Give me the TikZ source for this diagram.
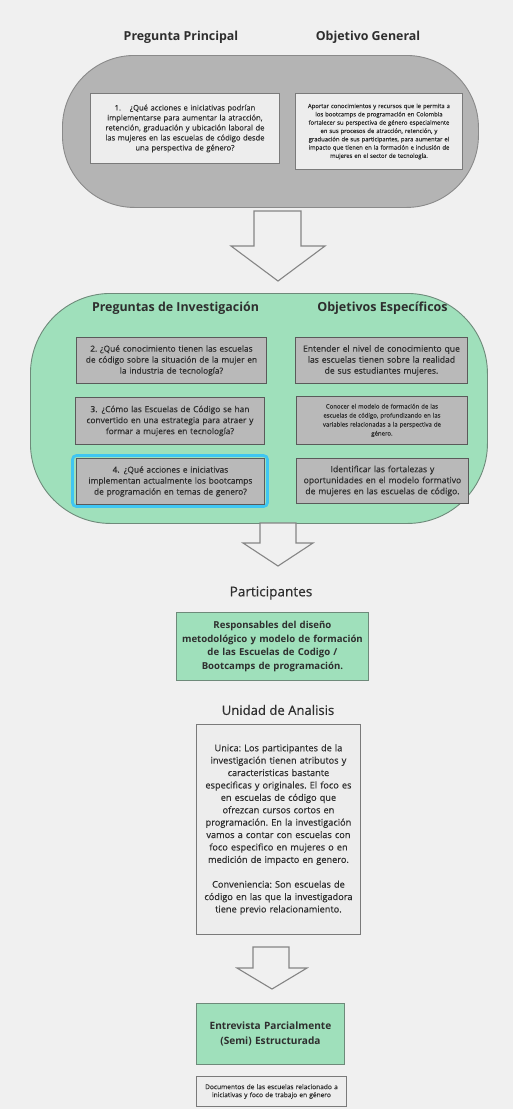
\documentclass[tikz,border=0pt]{standalone}
\usepackage{fontspec}
\setmainfont{Open Sans}
\newfontfamily\medsans{Open Sans}[FakeBold=0.4]
\definecolor{bgc}{HTML}{F0F0F0}
\definecolor{stadgray}{HTML}{B4B4B4}
\definecolor{stadgrayb}{HTML}{8A8A8A}
\definecolor{lightbox}{HTML}{EDEDED}
\definecolor{lightboxb}{HTML}{7A7A7A}
\definecolor{mint}{HTML}{9FE0BB}
\definecolor{mintb}{HTML}{6E8A7A}
\definecolor{midgray}{HTML}{B9B9B9}
\definecolor{midgrayb}{HTML}{5A5A5A}
\definecolor{cyanhl}{HTML}{3FC6F2}
\definecolor{txt}{HTML}{2E2E2E}
\definecolor{arrowb}{HTML}{858585}
\tikzset{
  hdr/.style={text=txt, font=\bfseries\fontsize{12.4}{14}\selectfont, inner sep=0pt},
  hdrb/.style={text=txt, inner sep=0pt},
  basebox/.style={anchor=north west, inner sep=0pt, align=center, text=txt},
  topbox/.style={basebox, draw=lightboxb, fill=lightbox, line width=0.9pt},
  qbox/.style={basebox, draw=midgrayb, fill=midgray, line width=0.9pt},
  greenbox/.style={basebox, draw=mintb, fill=mint, line width=0.9pt},
  hollowarrow/.style={draw=arrowb, fill=bgc, line width=1.1pt, line join=miter}
}
\begin{document}
\frenchspacing
\begin{tikzpicture}[x=1pt,y=-1pt]
\fill[bgc] (0,0) rectangle (513,1109);
\useasboundingbox (0,0) rectangle (513,1109);

% ---------- top section ----------
\node[hdr] (hpp) at (181,37) {Pregunta Principal};
\node[hdr] (hog) at (368,37) {Objetivo General};

\node[anchor=north west, draw=stadgrayb, fill=stadgray, line width=0.9pt,
      minimum width=416pt, minimum height=152pt, rounded corners=72pt, inner sep=0pt]
      (stadtop) at (62,55) {};

\node[topbox, minimum width=189pt, minimum height=70pt, text width=187pt,
      font=\medsans\fontsize{7.6}{10}\selectfont] (q1) at (90,93)
  {1.\enspace\ \ ¿Qué acciones e iniciativas podrían\\
   implementarse para aumentar la atracción,\\
   retención, graduación y ubicación laboral de\\
   las mujeres en las escuelas de código desde\\
   una perspectiva de género?};

\node[topbox, minimum width=167pt, minimum height=76pt, text width=165pt,
      font=\medsans\fontsize{5.9}{8.3}\selectfont] (og) at (295,93)
  {Aportar conocimientos y recursos que le permita a\\
   los bootcamps de programación en Colombia\\
   fortalecer su perspectiva de género especialmente\\
   en sus procesos de atracción, retención, y\\
   graduación de sus participantes, para aumentar el\\
   impacto que tienen en la formación e inclusión de\\
   mujeres en el sector de tecnología.};

% arrow 1
\draw[hollowarrow] (254,211) -- (254,246) -- (231,246) -- (278,281) -- (325,246) -- (301,246) -- (301,211) -- cycle;

% ---------- green section ----------
\node[anchor=north west, draw=mintb, fill=mint, line width=0.9pt,
      minimum width=457pt, minimum height=230pt, rounded corners=80pt, inner sep=0pt]
      (stadgreen) at (30,293) {};

\node[hdr, font=\bfseries\fontsize{12.4}{14}\selectfont] (hpi) at (175.5,308) {Preguntas de Investigación};
\node[hdr, font=\bfseries\fontsize{12.5}{14}\selectfont] (hoe) at (382.5,308) {Objetivos Específicos};

\node[qbox, minimum width=190pt, minimum height=46pt, text width=188pt,
      font=\medsans\fontsize{8.35}{11}\selectfont] (q2) at (76,337)
  {2. ¿Qué conocimiento tienen las escuelas\\
   de código sobre la situación de la mujer en\\
   la industria de tecnología?};

\node[qbox, minimum width=189pt, minimum height=47pt, text width=188pt,
      font=\medsans\fontsize{8.35}{11}\selectfont] (q3) at (75,397)
  {3.\enspace ¿Cómo las Escuelas de Código se han\\
   convertido en una estrategia para atraer y\\
   formar a mujeres en tecnología?};

\draw[cyanhl, line width=2.8pt, rounded corners=4pt] (72.5,455.5) rectangle (267.5,506.5);
\node[qbox, minimum width=188pt, minimum height=46pt, text width=186pt,
      font=\medsans\fontsize{8.35}{11}\selectfont] (q4) at (76,458)
  {4.\enspace ¿Qué acciones e iniciativas\\
   implementan actualmente los bootcamps\\
   de programación en temas de genero?};

\node[qbox, minimum width=172pt, minimum height=46pt, text width=170pt,
      font=\medsans\fontsize{8.6}{11}\selectfont] (oe1) at (295,337)
  {Entender el nivel de conocimiento que\\
   las escuelas tienen sobre la realidad\\
   de sus estudiantes mujeres.};

\node[qbox, minimum width=171pt, minimum height=48pt, text width=170pt,
      font=\medsans\fontsize{6.0}{9}\selectfont] (oe2) at (296,396)
  {Conocer el modelo de formación de las\\
   escuelas de código, profundizando en las\\
   variables relacionadas a la perspectiva de\\
   género.};

\node[qbox, minimum width=172pt, minimum height=45pt, text width=170pt,
      font=\medsans\fontsize{8.6}{11}\selectfont] (oe3) at (296,458)
  {Identificar las fortalezas y\\
   oportunidades en el modelo formativo\\
   de mujeres en las escuelas de código.};

% arrow 2
\draw[hollowarrow] (260,523) -- (260,543) -- (243,543) -- (278,566) -- (313,543) -- (296,543) -- (296,523) -- cycle;

% ---------- participantes ----------
\node[hdrb, font=\medsans\fontsize{13.6}{15}\selectfont] (hpa) at (271,593) {Participantes};
\node[greenbox, minimum width=192pt, minimum height=68pt, text width=190pt,
      font=\bfseries\fontsize{9.6}{13.5}\selectfont] (pa) at (176,612)
  {Responsables del diseño\\
   metodológico y modelo de formación\\
   de las Escuelas de Codigo /\\
   Bootcamps de programación.};

% ---------- unidad de analisis ----------
\node[hdrb, font=\medsans\fontsize{13.1}{15}\selectfont] (hua) at (278,710) {Unidad de Analisis};
\node[topbox, minimum width=164pt, minimum height=210pt, text width=162pt,
      font=\medsans\fontsize{9.2}{12.4}\selectfont] (ua) at (196,724)
  {Unica: Los participantes de la\\
   investigación tienen atributos y\\
   caracteristicas bastante\\
   especificas y originales. El foco es\\
   en escuelas de código que\\
   ofrezcan cursos cortos en\\
   programación. En la investigación\\
   vamos a contar con escuelas con\\
   foco especifico en mujeres o en\\
   medición de impacto en genero.\\[12.4pt]
   Conveniencia: Son escuelas de\\
   código en las que la investigadora\\
   tiene previo relacionamiento.};

% arrow 3
\draw[hollowarrow] (253,947) -- (253,968) -- (237,968) -- (272,989) -- (307,968) -- (289,968) -- (289,947) -- cycle;

% ---------- entrevista ----------
\node[greenbox, minimum width=148pt, minimum height=61pt, text width=146pt,
      font=\bfseries\fontsize{10.1}{15.5}\selectfont] (en) at (196,1003)
  {Entrevista Parcialmente\\(Semi) Estructurada};

\node[topbox, minimum width=150pt, minimum height=30pt, text width=148pt,
      font=\medsans\fontsize{6.6}{8}\selectfont] (doc) at (196,1076)
  {Documentos de las escuelas relacionado a\\
   iniciativas y foco de trabajo en género};
\end{tikzpicture}
\end{document}
